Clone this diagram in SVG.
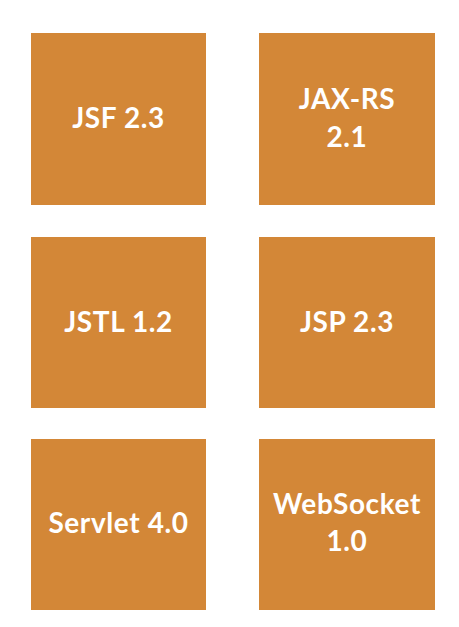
<svg xmlns="http://www.w3.org/2000/svg" width="459" height="627" viewBox="0 0 459 627">
<style>
.box{fill:#D38737;}
.lbl{fill:#FFFFFF;font-family:Lato,"Open Sans","Liberation Sans",sans-serif;font-weight:bold;font-size:28px;letter-spacing:0.6px;text-anchor:middle;}
</style>
<rect width="459" height="627" fill="#FFFFFF"/>
<g id="jsf"><rect class="box" x="31" y="33" width="175" height="172"/><text class="lbl" x="118.5" y="128">JSF 2.3</text></g>
<g id="jaxrs"><rect class="box" x="259" y="33" width="176" height="172"/><text class="lbl" x="347" y="109">JAX-RS</text><text class="lbl" x="347" y="147">2.1</text></g>
<g id="jstl"><rect class="box" x="31" y="237" width="175" height="171"/><text class="lbl" x="118.5" y="332">JSTL 1.2</text></g>
<g id="jsp"><rect class="box" x="259" y="237" width="176" height="171"/><text class="lbl" x="347" y="332">JSP 2.3</text></g>
<g id="servlet"><rect class="box" x="31" y="439" width="175" height="171"/><text class="lbl" x="118.5" y="533">Servlet 4.0</text></g>
<g id="websocket"><rect class="box" x="259" y="439" width="176" height="171"/><text class="lbl" x="347" y="514">WebSocket</text><text class="lbl" x="347" y="551">1.0</text></g>
<g id="connectors"></g>
</svg>
